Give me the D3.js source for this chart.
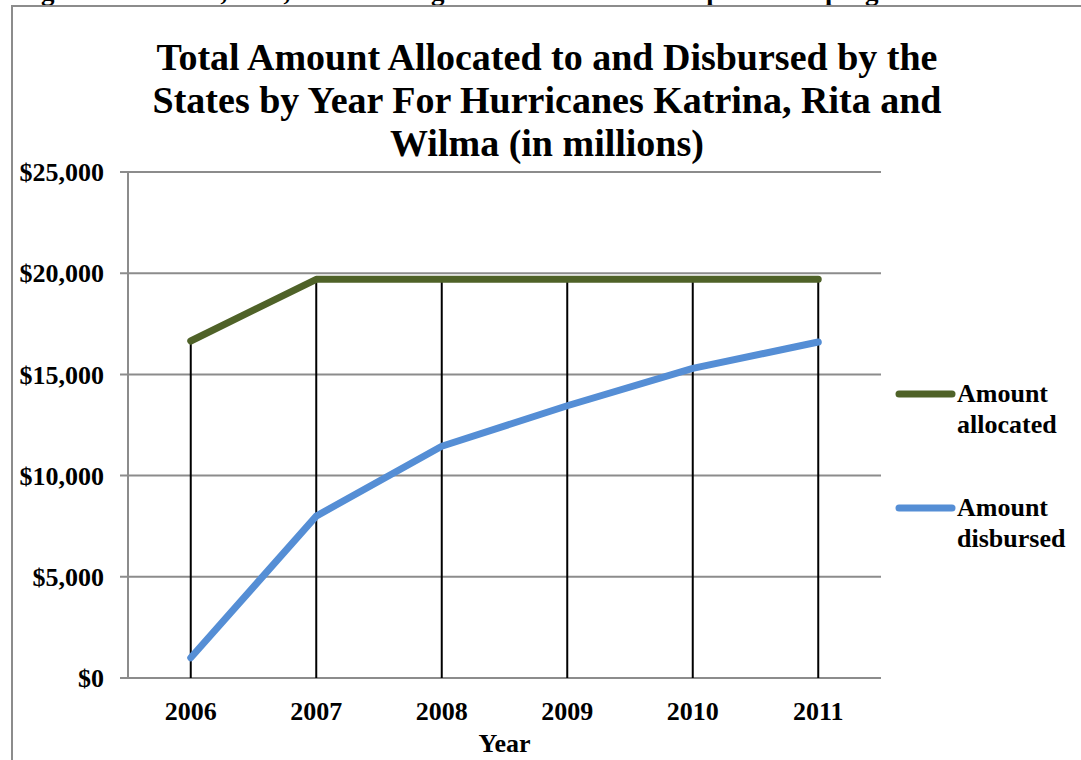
<!DOCTYPE html>
<html>
<head>
<meta charset="utf-8">
<script src="https://cdn.jsdelivr.net/npm/d3@7"></script>
<style>
  html, body { margin: 0; padding: 0; background: #fff; }
  svg { display: block; }
  text { font-family: "Liberation Serif", "Times New Roman", serif; font-weight: bold; fill: #000; }
</style>
</head>
<body>
<svg id="chart" width="1081" height="760"></svg>
<script>
const years = ["2006", "2007", "2008", "2009", "2010", "2011"];
const allocated = [16650, 19700, 19700, 19700, 19700, 19700];
const disbursed = [1000, 8000, 11450, 13450, 15300, 16600];
const yTicks = [0, 5000, 10000, 15000, 20000, 25000];
const seriesNames = ["Amount allocated", "Amount disbursed"];
const seriesColors = ["#4f6228", "#558ed5"];
const titleLines = ["Total Amount Allocated to and Disbursed by the",
                    "States by Year For Hurricanes Katrina, Rita and",
                    "Wilma (in millions)"];
const captionText = "Figure 3: Katrina, Rita, and Wilma grants allocation and expenditure progress";
const xTitle = "Year";

(function () {
const svg = d3.select("#chart");

// caption of the page, cut off at the top edge as in the reference
svg.append("text").attr("x", 17).attr("y", 0)
  .style("font-size", "27px").text(captionText);

// outer frame
svg.append("rect").attr("x", 12).attr("y", 6).attr("width", 1100).attr("height", 800)
  .attr("fill", "none").attr("stroke", "#8c8c8c").attr("stroke-width", 2);

const pL = 128, pR = 881, pT = 172, pB = 678;

const x = d3.scalePoint().domain(years).range([pL, pR]).padding(0.5);
const y = d3.scaleLinear().domain([0, 25000]).range([pB, pT]);

// gridlines
svg.append("g").selectAll("line").data(yTicks).join("line")
  .attr("x1", pL - 8).attr("x2", pR)
  .attr("y1", d => y(d)).attr("y2", d => y(d))
  .attr("stroke", "#8c8c8c").attr("stroke-width", 2);

// y axis line
svg.append("line").attr("x1", pL).attr("x2", pL).attr("y1", pT).attr("y2", pB)
  .attr("stroke", "#8c8c8c").attr("stroke-width", 2);

// y labels
const fmt = d3.format("$,");
svg.append("g").selectAll("text").data(yTicks).join("text")
  .attr("x", pL - 24).attr("y", d => y(d)).attr("dy", "0.35em")
  .attr("text-anchor", "end").style("font-size", "26px")
  .text(d => fmt(d));

// drop lines
svg.append("g").selectAll("line").data(years).join("line")
  .attr("x1", d => x(d)).attr("x2", d => x(d))
  .attr("y1", (d, i) => y(Math.max(allocated[i], disbursed[i])))
  .attr("y2", y(0))
  .attr("stroke", "#000").attr("stroke-width", 2);

// x labels
svg.append("g").selectAll("text").data(years).join("text")
  .attr("x", d => x(d)).attr("y", 720)
  .attr("text-anchor", "middle").style("font-size", "26px").text(d => d);

svg.append("text").attr("x", (pL + pR) / 2).attr("y", 752)
  .attr("text-anchor", "middle").style("font-size", "26px").text(xTitle);

// lines
const line = d3.line().x((d, i) => x(years[i])).y(d => y(d));
[allocated, disbursed].forEach((s, k) => {
  svg.append("path").datum(s).attr("d", line)
    .attr("fill", "none").attr("stroke", seriesColors[k])
    .attr("stroke-width", 7)
    .attr("stroke-linecap", "round").attr("stroke-linejoin", "round");
});

// title
svg.append("g").selectAll("text").data(titleLines).join("text")
  .attr("x", 547).attr("y", (d, i) => 70 + i * 43)
  .attr("text-anchor", "middle").style("font-size", "38px").text(d => d);

// legend
const legY = [394, 508];
seriesNames.forEach((name, k) => {
  const g = svg.append("g");
  g.append("line").attr("x1", 899).attr("x2", 952).attr("y1", legY[k]).attr("y2", legY[k])
    .attr("stroke", seriesColors[k]).attr("stroke-width", 7)
    .attr("stroke-linecap", "round");
  const words = name.split(" ");
  words.forEach((w, j) => {
    g.append("text").attr("x", 957).attr("y", legY[k] + 8 + j * 31)
      .style("font-size", "26px").text(w);
  });
});
})();
</script>
</body>
</html>
